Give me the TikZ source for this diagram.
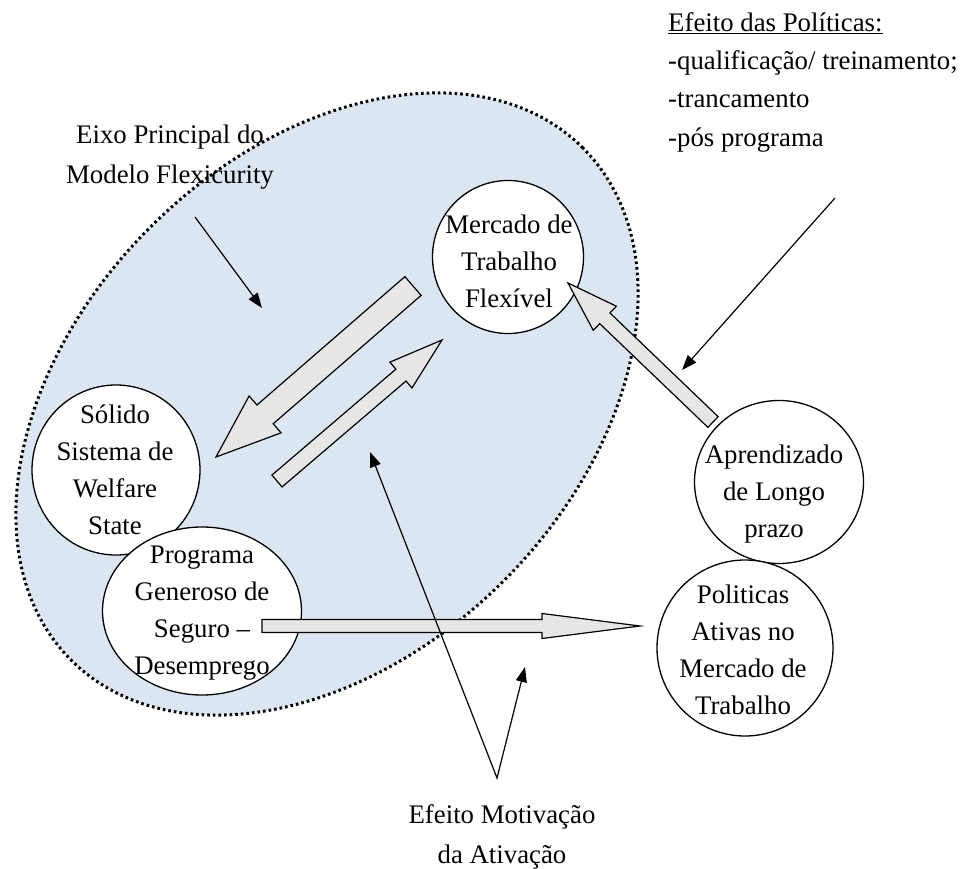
\documentclass[tikz,border=0pt]{standalone}
\usepackage{fontspec}
\setmainfont{Liberation Serif}
\usetikzlibrary{calc,arrows.meta,shapes.geometric}
\definecolor{ellfill}{RGB}{220,230,242}
\definecolor{arrfill}{RGB}{230,230,230}
\newcommand{\mytop}{\rule{0pt}{20pt}}
\newcommand{\blockarrow}[5]{%
  \coordinate (ba-b) at ($(#2)!#5!(#1)$);
  \draw[blockarr] ($(#1)!#3!90:(#2)$) -- ($(ba-b)!#3!90:(#2)$) -- ($(ba-b)!#4!90:(#2)$) -- (#2)
     -- ($(ba-b)!#4!-90:(#2)$) -- ($(ba-b)!#3!-90:(#2)$) -- ($(#1)!#3!-90:(#2)$) -- cycle;}
\begin{document}
\begin{tikzpicture}[x=1pt,y=-1pt,
  txt/.style={font=\fontsize{26.8}{37}\selectfont, inner sep=0pt, align=center, anchor=north},
  circ/.style={ellipse, draw, fill=white, line width=1.3pt, inner sep=0pt},
  blockarr/.style={draw, fill=arrfill, line width=1.2pt, line join=miter},
  thinarr/.style={line width=1.2pt, -{Triangle[length=15pt,width=11pt]}},
  dotline/.style={line width=3pt, dash pattern=on 2.6pt off 3pt}]
\useasboundingbox (0,0) rectangle (961,869);
% main ellipse
\fill[ellfill, rotate around={45:(327,404)}] (327,404) ellipse [x radius=362pt, y radius=250pt];
\draw[dotline, rotate around={45:(327,404)}] (327,404) ellipse [x radius=362pt, y radius=250pt];
% circles
\node[circ, minimum width=151pt, minimum height=153pt] (mercado) at (508,257) {};
\node[circ, minimum width=168pt, minimum height=170pt] (solido) at (116,470) {};
\node[circ, minimum width=199pt, minimum height=168pt] (programa) at (202,611) {};
\node[circ, minimum width=169pt, minimum height=163pt] (aprend) at (779,482) {};
\node[circ, minimum width=176pt, minimum height=176pt] (politicas) at (745,648) {};
% block arrows
\coordinate (a1t) at (413,286); \coordinate (a1h) at (216,457);
\coordinate (a2t) at (277,481); \coordinate (a2h) at (442,340);
\coordinate (a3t) at (713,422); \coordinate (a3h) at (568,283);
\coordinate (a4t) at (262,626); \coordinate (a4h) at (640,626);
\blockarrow{a1t}{a1h}{12.4pt}{24.4pt}{65pt}
\blockarrow{a2t}{a2h}{7.8pt}{17pt}{54pt}
\blockarrow{a3t}{a3h}{7.4pt}{16.7pt}{51pt}
\blockarrow{a4t}{a4h}{6.5pt}{12.5pt}{98pt}
% thin arrows
\coordinate (e1s) at (195,217); \coordinate (e1e) at (262,308);
\coordinate (e2s) at (835,198); \coordinate (e2e) at (682,370);
\coordinate (mv) at (497,778); \coordinate (m1) at (370,452); \coordinate (m2) at (525,667);
\draw[thinarr] (e1s) -- (e1e);
\draw[thinarr] (e2s) -- (e2e);
\draw[line width=1.2pt, {Triangle[length=15pt,width=11pt]}-{Triangle[length=15pt,width=11pt]}] (m1) -- (mv) -- (m2);
% texts
\node[txt, font=\fontsize{26.8}{40}\selectfont] (t-eixo) at (170,123) {\mytop Eixo Principal do\\Modelo Flexicurity};
\node[txt, align=left, anchor=north west, font=\fontsize{26.8}{38.3}\selectfont] (t-pol) at (668,11)
  {\mytop\underline{Efeito das Políticas:}\\-qualificação/ treinamento;\\-trancamento\\-pós programa};
\node[txt] (t-mercado) at (509,213) {\mytop Mercado de\\Trabalho\\Flexível};
\node[txt] (t-solido) at (115,403) {\mytop Sólido\\Sistema de\\Welfare\\State};
\node[txt] (t-programa) at (202,543) {\mytop Programa\\Generoso de\\Seguro –\\Desemprego};
\node[txt] (t-aprend) at (774,443) {\mytop Aprendizado\\de Longo\\prazo};
\node[txt] (t-politicas) at (743,583) {\mytop Politicas\\Ativas no\\Mercado de\\Trabalho};
\node[txt, font=\fontsize{26.8}{40}\selectfont] (t-motiv) at (502,803) {\mytop Efeito Motivação\\da Ativação};
\end{tikzpicture}
\end{document}
